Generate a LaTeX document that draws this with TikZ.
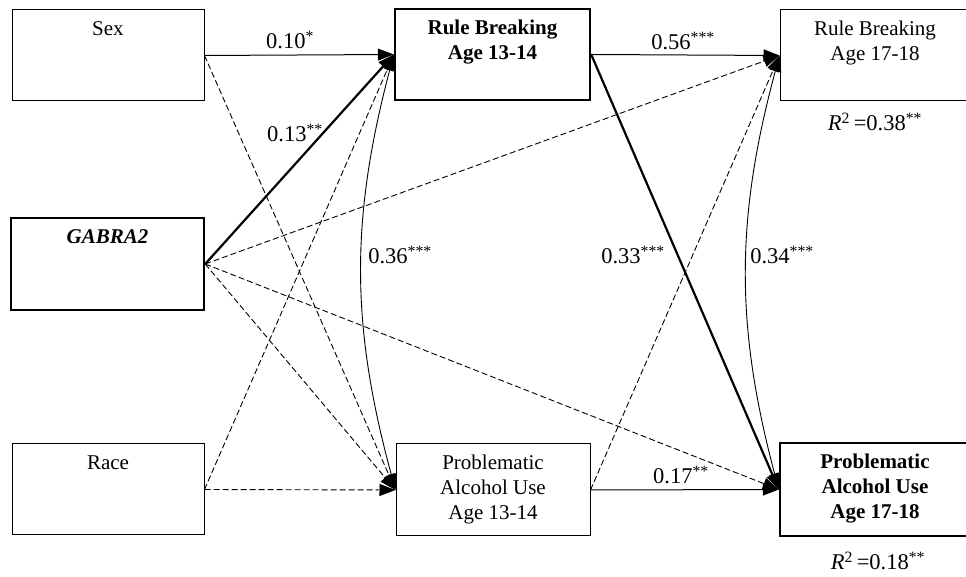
\documentclass[tikz,border=0pt]{standalone}
\usepackage{fontspec}
\setmainfont{Liberation Serif}
\usetikzlibrary{arrows.meta}
\newcommand{\boxfont}{\fontsize{21}{25}\selectfont}
\newcommand{\coeffont}{\fontsize{22.5}{26}\selectfont}
\newcommand{\boxtext}[3]{\parbox[c][#2pt][t]{#1pt}{\centering\rule{0pt}{26pt}#3}}

\begin{document}
\begin{tikzpicture}[>={Triangle[length=16pt,width=12pt]}, x=1pt, y=1pt, line join=miter]
		\useasboundingbox (0,0) rectangle (966,577);
		\tikzset{
			varbox/.style={draw, line width=1pt, inner sep=0pt, font=\boxfont},
			keybox/.style={varbox, line width=2.4pt},
			solidpath/.style={->, line width=1pt},
			sigpath/.style={->, line width=2.2pt},
			nspath/.style={->, line width=0.9pt, dash pattern=on 6pt off 3pt},
			corrpath/.style={<->, line width=0.9pt},
			coef/.style={font=\coeffont, inner sep=1pt}
		}
		
		%========================
		% Left: predictors
		%========================
		\node[varbox] (sex) at (108,521.5) {\boxtext{192}{91}{Sex}};
		\node[keybox] (gabra) at (107.5,313) {\boxtext{193}{92}{\textbf{\textit{GABRA2}}}};
		\node[varbox] (race) at (108,87.5) {\boxtext{192}{91}{Race}};
		
		%========================
		% Middle: age 13-14
		%========================
		\node[keybox] (rb13) at (492.5,522.5) {\boxtext{195}{91}{\textbf{Rule Breaking}\\\textbf{Age 13-14}}};
		\node[varbox] (pau13) at (493,87) {\boxtext{194}{92}{Problematic\\Alcohol Use\\Age 13-14}};
		
		%========================
		% Right: age 17-18
		%========================
		\node[varbox] (rb17) at (875,521.5) {\boxtext{190}{91}{Rule Breaking\\Age 17-18}};
		\node[keybox] (pau17) at (875,87.5) {\boxtext{190}{93}{\textbf{Problematic}\\\textbf{Alcohol Use}\\\textbf{Age 17-18}}};
		
		% explained variance
		\node[coef] (r2rb) at (875,455) {\textit{R}\textsuperscript{2}\,=0.38\textsuperscript{**}};
		\node[coef] (r2pau) at (878,16) {\textit{R}\textsuperscript{2}\,=0.18\textsuperscript{**}};
		
		% non-significant paths
		\draw[nspath] (sex.east) -- (pau13.west);
		\draw[nspath] (gabra.east) -- (pau13.west);
		\draw[nspath] (gabra.east) -- (rb17.west);
		\draw[nspath] (gabra.east) -- (pau17.west);
		\draw[nspath] (race.east) -- (pau13.west);
		\draw[nspath] (race.east) -- (rb13.west);
		\draw[nspath] (pau13.east) -- (rb17.west);
		
		% significant paths
		\draw[solidpath] (sex.east) -- (rb13.west);
		\draw[sigpath] (gabra.east) -- (rb13.west);
		\draw[solidpath] (rb13.east) -- (rb17.west);
		\draw[sigpath] (rb13.east) -- (pau17.west);
		\draw[solidpath] (pau13.east) -- (pau17.west);
		
		% correlations
		\draw[corrpath] (rb13.west) to[bend right=15] (pau13.west);
		\draw[corrpath] (rb17.west) to[bend right=15] (pau17.west);
		
		% coefficients
		\node[coef] (c1) at (290,537) {0.10\textsuperscript{*}};
		\node[coef] (c2) at (295,444) {0.13\textsuperscript{**}};
		\node[coef] (c3) at (400,322) {0.36\textsuperscript{***}};
		\node[coef] (c4) at (683,536) {0.56\textsuperscript{***}};
		\node[coef] (c5) at (633,322) {0.33\textsuperscript{***}};
		\node[coef] (c6) at (782,322) {0.34\textsuperscript{***}};
		\node[coef] (c7) at (681,102) {0.17\textsuperscript{**}};
		
	\end{tikzpicture}
\end{document}
